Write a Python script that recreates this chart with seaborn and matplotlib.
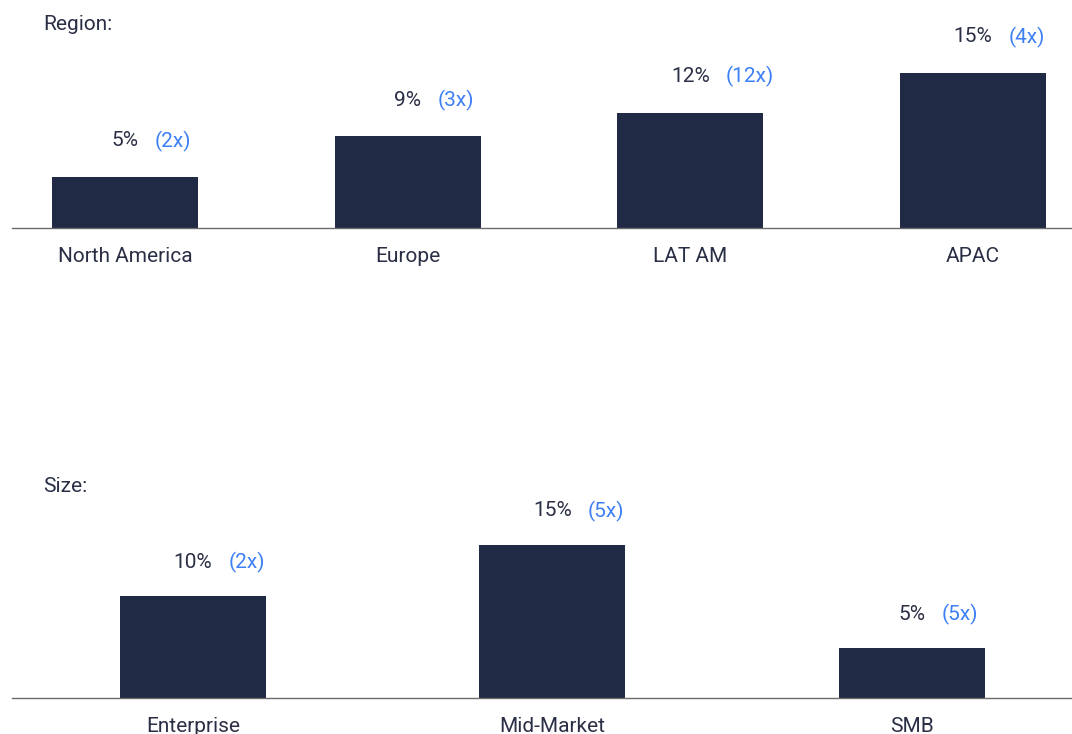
import matplotlib
matplotlib.use("Agg")
import matplotlib.pyplot as plt
import seaborn as sns
import pandas as pd

# Data
region_cats = ["North America", "Europe", "LAT AM", "APAC"]
region_bar = [5, 9, 11.3, 15.2]          # bar heights
region_pct = ["5%", "9%", "12%", "15%"]
region_mult = ["(2x)", "(3x)", "(12x)", "(4x)"]

size_cats = ["Enterprise", "Mid-Market", "SMB"]
size_bar = [10, 15, 4.9]
size_pct = ["10%", "15%", "5%"]
size_mult = ["(2x)", "(5x)", "(5x)"]

BAR = "#212a45"
TXT = "#2a2f45"
BLUE = "#3d7ff5"
AXC = "#6b6b6b"
FS = 15

sns.set_theme(style="white")
plt.rcParams["font.family"] = ["Roboto", "DejaVu Sans"]

W, H = 1072, 734
fig = plt.figure(figsize=(W / 100, H / 100), dpi=100)
PX_PER = 10.2

def make_axes(base_y, top_y):
    return fig.add_axes([12 / W, 1 - base_y / H, 1060 / W, (base_y - top_y) / H])

def draw(ax, cats, bars, pcts, mults, width, xlim, title, title_y, base_y, top_y, lab_gap):
    df = pd.DataFrame({"cat": cats, "val": bars})
    sns.barplot(data=df, x="cat", y="val", color=BAR, width=width, ax=ax,
                saturation=1, edgecolor="none")
    ax.set_xlim(*xlim)
    ax.set_ylim(0, (base_y - top_y) / PX_PER)
    for s in ["top", "left", "right"]:
        ax.spines[s].set_visible(False)
    ax.spines["bottom"].set_color(AXC)
    ax.spines["bottom"].set_linewidth(1.0)
    ax.set_yticks([])
    ax.set_xlabel("")
    ax.set_ylabel("")
    ax.tick_params(axis="x", length=0, pad=13.5, labelsize=FS, labelcolor=TXT)
    for i, (v, p, m) in enumerate(zip(bars, pcts, mults)):
        t = ax.annotate(p, xy=(i, v), xytext=(0, lab_gap), textcoords="offset pixels",
                        ha="center", va="center", fontsize=FS, color=TXT,
                        annotation_clip=False)
        ax.annotate(m, xy=(1, 0.5), xycoords=t, xytext=(16, 0),
                    textcoords="offset pixels", ha="left", va="center",
                    fontsize=FS, color=BLUE, annotation_clip=False)
    fig.text(43 / W, 1 - title_y / H, title, ha="left", va="center",
             fontsize=FS, color=TXT)

ax1 = make_axes(228, 10)
draw(ax1, region_cats, region_bar, region_pct, region_mult, 0.516,
     (-0.40, 3.35), "Region:", 24, 228, 10, 36)

ax2 = make_axes(698, 480)
draw(ax2, size_cats, size_bar, size_pct, size_mult, 0.406,
     (-0.503, 2.445), "Size:", 487, 698, 480, 34)

fig.savefig("out.png", dpi=100)
